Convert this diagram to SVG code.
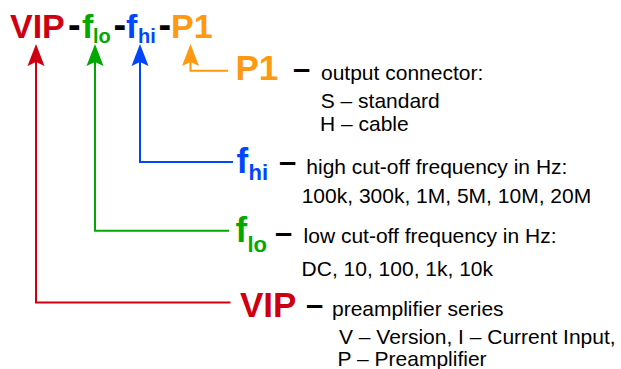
<svg xmlns="http://www.w3.org/2000/svg" width="621" height="369" viewBox="0 0 621 369">
<style>
.t{font-family:"Liberation Sans",Arial,sans-serif;}
.b{font-weight:bold;font-size:34px;}
.hy{font-weight:bold;font-size:38px;fill:#000;}
.big{font-weight:bold;font-size:35px;}
.sub{font-weight:bold;font-size:20px;}
.sub2{font-weight:bold;font-size:22px;}
.dash{font-weight:bold;font-size:31px;fill:#000;}
.txt{font-size:21px;fill:#000;}
.red{fill:#cc0011;}
.grn{fill:#00a800;}
.blu{fill:#0046ff;}
.org{fill:#ff9910;}
.ln{fill:none;stroke-width:2;}
</style>
<defs>
<marker id="aR" markerUnits="userSpaceOnUse" markerWidth="30" markerHeight="30" refX="0" refY="0" viewBox="-10 -15 30 30" orient="auto"><path d="M18,0 L-4,-8.5 L0,0 L-4,8.5 Z" fill="#cc0011"/></marker>
<marker id="aG" markerUnits="userSpaceOnUse" markerWidth="30" markerHeight="30" refX="0" refY="0" viewBox="-10 -15 30 30" orient="auto"><path d="M18,0 L-4,-8.5 L0,0 L-4,8.5 Z" fill="#00a800"/></marker>
<marker id="aB" markerUnits="userSpaceOnUse" markerWidth="30" markerHeight="30" refX="0" refY="0" viewBox="-10 -15 30 30" orient="auto"><path d="M18,0 L-4,-8.5 L0,0 L-4,8.5 Z" fill="#0046ff"/></marker>
<marker id="aO" markerUnits="userSpaceOnUse" markerWidth="30" markerHeight="30" refX="0" refY="0" viewBox="-10 -15 30 30" orient="auto"><path d="M18,0 L-4,-8.5 L0,0 L-4,8.5 Z" fill="#ff9910"/></marker>
</defs>
<rect width="621" height="369" fill="#fff"/>
<g id="title" class="t">
<text x="10" y="38" class="b red">VIP</text>
<text x="68" y="38" class="hy">-</text>
<text x="82" y="38" class="b grn">f</text>
<text x="93" y="43" class="sub grn">lo</text>
<text x="113.5" y="38" class="hy">-</text>
<text x="126" y="38" class="b blu">f</text>
<text x="138" y="43" class="sub blu">hi</text>
<text x="158.5" y="38" class="hy">-</text>
<text x="171" y="38" class="b org">P1</text>
</g>
<g id="connectors">
<path class="ln" stroke="#ff9910" d="M228,70.7 H190.5 V62" marker-end="url(#aO)"/>
<path class="ln" stroke="#0046ff" d="M233,162 H140 V62" marker-end="url(#aB)"/>
<path class="ln" stroke="#00a800" d="M229,230.7 H95 V62" marker-end="url(#aG)"/>
<path class="ln" stroke="#cc0011" d="M230.5,302.5 H36 V62" marker-end="url(#aR)"/>
</g>
<g id="node-p1" class="t">
<text x="235.5" y="80" class="big org">P1</text>
<text x="293" y="79" class="dash">–</text>
<text x="321" y="80" class="txt">output connector:</text>
<text x="320.7" y="108" class="txt">S – standard</text>
<text x="320" y="131" class="txt">H – cable</text>
</g>
<g id="node-fhi" class="t">
<text x="236.5" y="173" class="big blu">f</text>
<text x="248.5" y="180" class="sub2 blu">hi</text>
<text x="279" y="172" class="dash">–</text>
<text x="306.3" y="174" class="txt">high cut-off frequency in Hz:</text>
<text x="301.7" y="203" class="txt">100k, 300k, 1M, 5M, 10M, 20M</text>
</g>
<g id="node-flo" class="t">
<text x="235.5" y="242" class="big grn">f</text>
<text x="247.5" y="251.5" class="sub2 grn">lo</text>
<text x="275" y="243" class="dash">–</text>
<text x="303.6" y="243.3" class="txt">low cut-off frequency in Hz:</text>
<text x="301.6" y="276" class="txt">DC, 10, 100, 1k, 10k</text>
</g>
<g id="node-vip" class="t">
<text x="240" y="317" class="big red">VIP</text>
<text x="306" y="315" class="dash">–</text>
<text x="332" y="316" class="txt">preamplifier series</text>
<text x="339" y="344" class="txt">V – Version, I – Current Input,</text>
<text x="337.6" y="365.5" class="txt">P – Preamplifier</text>
</g>
</svg>
